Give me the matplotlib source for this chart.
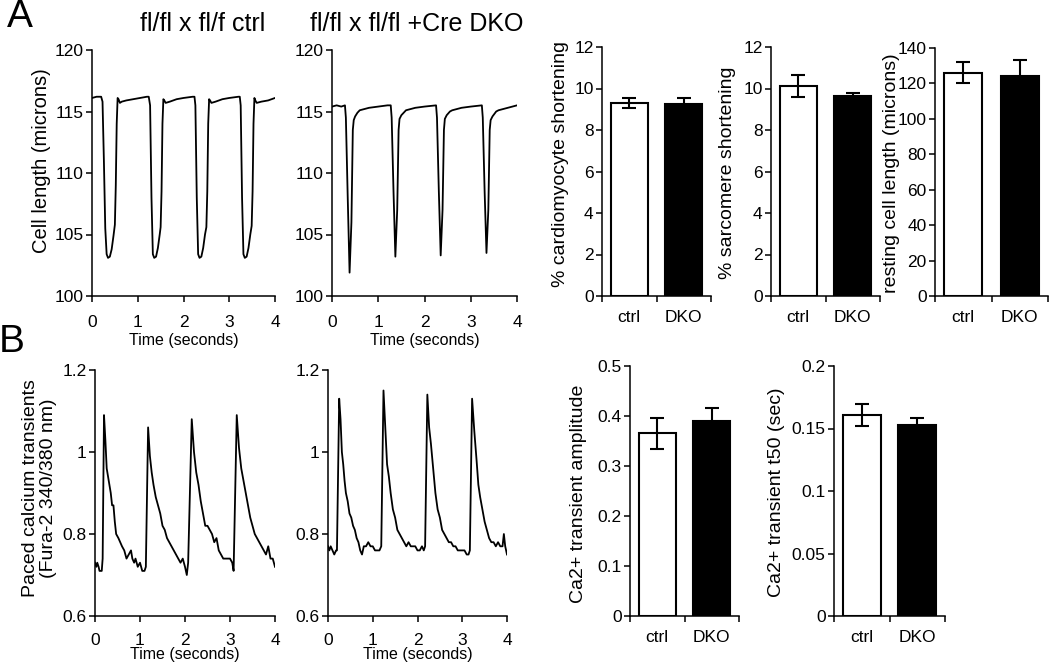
import matplotlib
matplotlib.use("Agg")
import matplotlib.pyplot as plt

plt.rcParams["font.family"] = ["Liberation Sans", "DejaVu Sans"]

W, H = 1050, 665

# ── Panel A traces: cell length (microns) vs time (s) ──
ctrl_len_t = [0, 0.1, 0.2, 0.23, 0.26, 0.29, 0.32, 0.35, 0.39, 0.43, 0.47, 0.5, 0.52, 0.54,
              0.56, 0.58, 0.61, 0.65, 0.75, 0.9, 1.05, 1.2, 1.24,
              1.27, 1.3, 1.33, 1.36, 1.4, 1.44, 1.48, 1.5, 1.52, 1.54, 1.56, 1.58, 1.61, 1.7,
              1.85, 2.0, 2.2, 2.24,
              2.26, 2.29, 2.32, 2.35, 2.39, 2.43, 2.47, 2.5, 2.52, 2.54, 2.56, 2.58, 2.61, 2.7,
              2.85, 3.0, 3.2, 3.23,
              3.25, 3.28, 3.31, 3.34, 3.38, 3.42, 3.46, 3.49, 3.51, 3.53, 3.55, 3.57, 3.6, 3.7,
              3.85, 4.0]
ctrl_len_v = [116.1, 116.2, 116.2, 115.8, 111.0, 105.5, 103.4, 103.1, 103.2, 103.8, 104.9, 105.8,
              109.0, 114.0, 116.1, 116.0, 115.7, 115.8, 115.9, 116.0, 116.1, 116.2, 116.2,
              115.5, 108.0, 103.4, 103.1, 103.2, 103.9, 105.0, 105.6, 108.5, 114.0, 116.0, 115.9,
              115.7, 115.8, 116.0, 116.1, 116.2, 116.2,
              115.5, 108.0, 103.4, 103.1, 103.2, 103.9, 105.0, 105.6, 108.5, 114.0, 116.0, 115.9,
              115.7, 115.8, 116.0, 116.1, 116.2, 116.2,
              115.5, 108.0, 103.4, 103.1, 103.2, 103.9, 105.0, 105.7, 108.5, 114.0, 116.1, 115.9,
              115.7, 115.8, 115.9, 116.1]

dko_len_t = [0, 0.1, 0.2, 0.28, 0.3, 0.34, 0.38, 0.42, 0.45, 0.47, 0.5, 0.55, 0.6, 0.7, 0.8,
             1.0, 1.2, 1.27,
             1.29, 1.33, 1.37, 1.41, 1.44, 1.46, 1.5, 1.55, 1.6, 1.7, 1.8, 2.0, 2.25,
             2.27, 2.31, 2.35, 2.39, 2.42, 2.44, 2.48, 2.55, 2.6, 2.7, 2.8, 3.0, 3.24,
             3.26, 3.3, 3.34, 3.38, 3.41, 3.43, 3.47, 3.55, 3.6, 3.7, 3.8, 3.9, 4.0]
dko_len_v = [115.4, 115.5, 115.4, 115.5, 114.5, 108.0, 101.9, 106.0, 113.5, 114.3, 114.6, 114.9,
             115.1, 115.2, 115.3, 115.4, 115.5, 115.5,
             114.5, 108.5, 103.2, 107.0, 113.5, 114.4, 114.7, 114.9, 115.1, 115.2, 115.3, 115.4,
             115.5,
             114.5, 108.5, 103.3, 107.0, 113.5, 114.4, 114.7, 115.0, 115.1, 115.2, 115.3, 115.4,
             115.5,
             114.5, 108.5, 103.5, 107.0, 113.5, 114.3, 114.6, 115.0, 115.1, 115.2, 115.3, 115.4,
             115.5]

# ── Panel B traces: Fura-2 340/380 ratio vs time (s) ──
ctrl_ca_t = [0, 0.03, 0.05, 0.08, 0.1, 0.15, 0.17, 0.2,
             0.23, 0.26, 0.29, 0.32, 0.35, 0.38, 0.41, 0.44, 0.47, 0.52, 0.56, 0.6, 0.65, 0.7,
             0.75, 0.8, 0.83, 0.87, 0.9, 0.95, 1.0, 1.05, 1.1, 1.13, 1.18,
             1.22, 1.26, 1.3, 1.35, 1.4, 1.45, 1.5, 1.55, 1.6, 1.65, 1.7, 1.75, 1.8, 1.85, 1.9,
             1.95, 2.0, 2.04, 2.07, 2.15,
             2.2, 2.25, 2.3, 2.35, 2.4, 2.45, 2.5, 2.55, 2.6, 2.65, 2.7, 2.75, 2.8, 2.85, 2.9,
             2.95, 3.0, 3.05, 3.08, 3.15,
             3.2, 3.25, 3.3, 3.35, 3.4, 3.45, 3.5, 3.55, 3.6, 3.65, 3.7, 3.75, 3.8, 3.85, 3.9,
             3.95, 4.0]
ctrl_ca_v = [0.73, 0.72, 0.73, 0.72, 0.71, 0.71, 0.74, 1.09,
             1.03, 0.96, 0.94, 0.92, 0.90, 0.87, 0.87, 0.83, 0.80, 0.79, 0.78, 0.77, 0.76, 0.74,
             0.75, 0.76, 0.74, 0.73, 0.74, 0.72, 0.73, 0.71, 0.71, 0.72, 1.06,
             0.99, 0.95, 0.92, 0.89, 0.87, 0.85, 0.82, 0.81, 0.79, 0.78, 0.77, 0.76, 0.75, 0.74,
             0.73, 0.74, 0.72, 0.70, 0.73, 1.08,
             1.00, 0.95, 0.92, 0.88, 0.85, 0.82, 0.82, 0.81, 0.80, 0.78, 0.79, 0.76, 0.75, 0.74,
             0.74, 0.74, 0.74, 0.73, 0.71, 1.09,
             1.01, 0.96, 0.93, 0.90, 0.87, 0.84, 0.82, 0.80, 0.79, 0.78, 0.77, 0.76, 0.75, 0.77,
             0.74, 0.74, 0.72]

dko_ca_t = [0, 0.03, 0.06, 0.1, 0.14, 0.18, 0.2, 0.25,
            0.28, 0.31, 0.34, 0.37, 0.4, 0.44, 0.48, 0.52, 0.56, 0.6, 0.64, 0.68, 0.72, 0.76,
            0.8, 0.85, 0.9, 0.95, 1.0, 1.05, 1.1, 1.15, 1.19, 1.24,
            1.28, 1.32, 1.36, 1.4, 1.45, 1.5, 1.55, 1.6, 1.65, 1.7, 1.75, 1.8, 1.85, 1.9, 1.95,
            2.0, 2.05, 2.1, 2.14, 2.17, 2.22,
            2.26, 2.3, 2.35, 2.4, 2.45, 2.5, 2.55, 2.6, 2.65, 2.7, 2.75, 2.8, 2.85, 2.9, 2.95,
            3.0, 3.05, 3.1, 3.14, 3.17, 3.22,
            3.27, 3.32, 3.36, 3.4, 3.45, 3.5, 3.55, 3.6, 3.65, 3.7, 3.75, 3.8, 3.85, 3.9, 3.93,
            3.96, 4.0]
dko_ca_v = [0.77, 0.76, 0.77, 0.76, 0.75, 0.76, 0.76, 1.13,
            1.08, 1.00, 0.97, 0.93, 0.90, 0.88, 0.85, 0.84, 0.82, 0.81, 0.79, 0.78, 0.76, 0.75,
            0.77, 0.77, 0.78, 0.77, 0.77, 0.76, 0.76, 0.76, 0.77, 1.15,
            1.06, 0.97, 0.94, 0.90, 0.86, 0.84, 0.81, 0.80, 0.79, 0.78, 0.77, 0.78, 0.77, 0.77,
            0.77, 0.76, 0.76, 0.77, 0.76, 0.77, 1.14,
            1.06, 1.02, 0.96, 0.90, 0.86, 0.84, 0.81, 0.80, 0.79, 0.78, 0.78, 0.77, 0.77, 0.76,
            0.76, 0.76, 0.76, 0.75, 0.75, 0.76, 1.13,
            1.05, 0.98, 0.92, 0.89, 0.86, 0.83, 0.81, 0.79, 0.78, 0.78, 0.77, 0.78, 0.77, 0.77,
            0.80, 0.77, 0.75]

# ── Bar summaries (mean, SEM) ──
groups = ["ctrl", "DKO"]
cm_short_mean = [9.3, 9.27]
cm_short_err = [0.24, 0.29]
sarc_short_mean = [10.12, 9.63]
sarc_short_err = [0.52, 0.16]
rest_len_mean = [126.0, 124.0]
rest_len_err = [6.0, 9.0]
ca_amp_mean = [0.366, 0.390]
ca_amp_err = [0.031, 0.027]
ca_t50_mean = [0.1607, 0.1525]
ca_t50_err = [0.009, 0.0056]

TICK_FS = 12.5
LABEL_FS = 14


def box(left, top, right, bottom):
    """pixel box -> figure fraction rect"""
    return [left / W, 1 - bottom / H, (right - left) / W, (bottom - top) / H]


def style(ax):
    for s in ("top", "right"):
        ax.spines[s].set_visible(False)
    for s in ("left", "bottom"):
        ax.spines[s].set_linewidth(1.1)
    ax.tick_params(axis="y", direction="out", length=4, width=1.1, pad=2, labelsize=TICK_FS)


def trace(ax, t, v, ylim, yticks, ylabels, xlab_y=-0.15, xpad=10):
    style(ax)
    ax.plot(t, v, color="black", lw=1.3)
    ax.set_xlim(0, 4)
    ax.set_ylim(*ylim)
    ax.set_xticks([0, 1, 2, 3, 4])
    ax.set_yticks(yticks)
    ax.set_yticklabels(ylabels)
    ax.tick_params(axis="x", direction="out", length=4, width=1.1, pad=xpad, labelsize=TICK_FS)
    ax.set_xlabel("Time (seconds)", fontsize=11.5)
    ax.xaxis.set_label_coords(0.5, xlab_y)


def bars(ax, mean, err, ylim, yticks, ylabels):
    style(ax)
    x = [0.5, 1.5]
    ax.bar(x, mean, width=0.68, color=["white", "black"], edgecolor="black", linewidth=1.5,
           yerr=err, error_kw=dict(ecolor="black", elinewidth=1.5, capsize=5, capthick=1.5),
           zorder=2)
    ax.set_xlim(0, 2)
    ax.set_ylim(*ylim)
    ax.set_yticks(yticks)
    ax.set_yticklabels(ylabels)
    ax.set_xticks([0, 1, 2])
    ax.set_xticklabels([])
    ax.set_xticks(x, minor=True)
    ax.set_xticklabels(groups, minor=True)
    ax.tick_params(axis="x", which="major", direction="out", length=4, width=1.1)
    ax.tick_params(axis="x", which="minor", length=0, pad=10, labelsize=TICK_FS)


fig = plt.figure(figsize=(W / 100, H / 100), dpi=100)

# Panel A
ax = fig.add_axes(box(92, 50, 275, 296))
trace(ax, ctrl_len_t, ctrl_len_v, (100, 120), [100, 105, 110, 115, 120],
      ["100", "105", "110", "115", "120"])
ax.set_ylabel("Cell length (microns)", fontsize=LABEL_FS + 0.5)
ax.yaxis.set_label_coords(-0.224, 0.55)

ax = fig.add_axes(box(332, 50, 517, 296))
trace(ax, dko_len_t, dko_len_v, (100, 120), [100, 105, 110, 115, 120],
      ["100", "105", "110", "115", "120"])

ax = fig.add_axes(box(602, 47, 711, 296))
bars(ax, cm_short_mean, cm_short_err, (0, 12), [0, 2, 4, 6, 8, 10, 12],
     ["0", "2", "4", "6", "8", "10", "12"])
ax.set_ylabel("% cardiomyocyte shortening", fontsize=LABEL_FS)
ax.yaxis.set_label_coords(-0.303, 0.53)

ax = fig.add_axes(box(771, 47, 880, 296))
bars(ax, sarc_short_mean, sarc_short_err, (0, 12), [0, 2, 4, 6, 8, 10, 12],
     ["0", "2", "4", "6", "8", "10", "12"])
ax.set_ylabel("% sarcomere shortening", fontsize=LABEL_FS)
ax.yaxis.set_label_coords(-0.321, 0.494)

ax = fig.add_axes(box(935, 48, 1048, 296))
bars(ax, rest_len_mean, rest_len_err, (0, 140), [0, 20, 40, 60, 80, 100, 120, 140],
     ["0", "20", "40", "60", "80", "100", "120", "140"])
ax.set_ylabel("resting cell length (microns)", fontsize=LABEL_FS)
ax.yaxis.set_label_coords(-0.31, 0.494)

# Panel B
ax = fig.add_axes(box(95, 370, 275, 616))
trace(ax, ctrl_ca_t, ctrl_ca_v, (0.6, 1.2), [0.6, 0.8, 1.0, 1.2], ["0.6", "0.8", "1", "1.2"],
      xlab_y=-0.125, xpad=8)
ax.set_ylabel("Paced calcium transients\n(Fura-2 340/380 nm)", fontsize=LABEL_FS,
              linespacing=1.05)
ax.yaxis.set_label_coords(-0.211, 0.52)

ax = fig.add_axes(box(328, 370, 507, 616))
trace(ax, dko_ca_t, dko_ca_v, (0.6, 1.2), [0.6, 0.8, 1.0, 1.2], ["0.6", "0.8", "1", "1.2"],
      xlab_y=-0.125, xpad=8)

ax = fig.add_axes(box(630, 366, 739, 616))
bars(ax, ca_amp_mean, ca_amp_err, (0, 0.5), [0, 0.1, 0.2, 0.3, 0.4, 0.5],
     ["0", "0.1", "0.2", "0.3", "0.4", "0.5"])
ax.set_ylabel("Ca2+ transient amplitude", fontsize=LABEL_FS)
ax.yaxis.set_label_coords(-0.394, 0.49)

ax = fig.add_axes(box(834, 366, 945, 616))
bars(ax, ca_t50_mean, ca_t50_err, (0, 0.2), [0, 0.05, 0.1, 0.15, 0.2],
     ["0", "0.05", "0.1", "0.15", "0.2"])
ax.set_ylabel("Ca2+ transient t50 (sec)", fontsize=LABEL_FS)
ax.yaxis.set_label_coords(-0.441, 0.496)

# titles and panel letters
fig.text(203 / W, 1 - 24 / H, "fl/fl x fl/f ctrl", fontsize=18, ha="center", va="center")
fig.text(417 / W, 1 - 24 / H, "fl/fl x fl/fl +Cre DKO", fontsize=18, ha="center", va="center")
fig.text(20 / W, 1 - 17 / H, "A", fontsize=28, ha="center", va="center")
fig.text(12 / W, 1 - 342 / H, "B", fontsize=28, ha="center", va="center")

fig.savefig("out.png", dpi=100)
